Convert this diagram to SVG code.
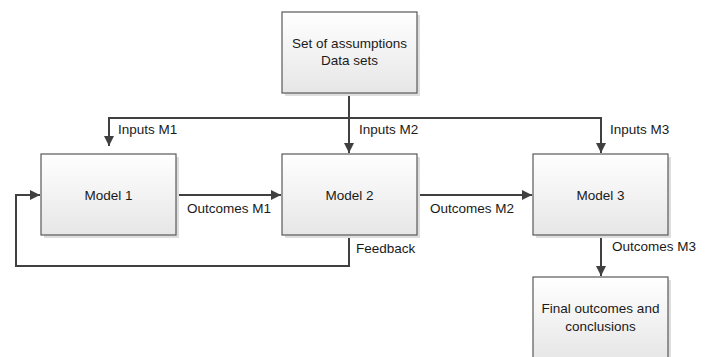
<svg xmlns="http://www.w3.org/2000/svg" width="706" height="357" viewBox="0 0 706 357">
<style>
.box{fill:url(#g);stroke:#595959;stroke-width:1.2}
.sh{fill:#dedede}
.t{font-family:"Liberation Sans",Arial,sans-serif;font-size:13.5px;fill:#1a1a1a}
.c{text-anchor:middle}
.ln{fill:none;stroke:#404040;stroke-width:2}
</style>
<defs>
<linearGradient id="g" x1="0" y1="0" x2="0" y2="1">
<stop offset="0" stop-color="#ffffff"/>
<stop offset="1" stop-color="#e6e6e6"/>
</linearGradient>
<marker id="a" markerWidth="12" markerHeight="12" refX="10" refY="5" orient="auto" markerUnits="userSpaceOnUse">
<path d="M0,0 L10,5 L0,10 Z" fill="#404040"/>
</marker>
</defs>
<g id="connectors">
<path class="ln" d="M349,93 V146"/>
<path class="ln" d="M109,146 V118 H601 V146"/>
<path class="ln" d="M109,118 V146" marker-end="url(#a)"/>
<path class="ln" d="M349,118 V153" marker-end="url(#a)"/>
<path class="ln" d="M601,118 V153" marker-end="url(#a)"/>
<path class="ln" d="M176,195 H281" marker-end="url(#a)"/>
<path class="ln" d="M417,195 H532" marker-end="url(#a)"/>
<path class="ln" d="M349,235 V266 H16 V195 H40" marker-end="url(#a)"/>
<path class="ln" d="M601,235 V276" marker-end="url(#a)"/>
<text class="t" x="118" y="134">Inputs M1</text>
<text class="t" x="359" y="134">Inputs M2</text>
<text class="t" x="610" y="134">Inputs M3</text>
<text class="t" x="187" y="213">Outcomes M1</text>
<text class="t" x="430" y="213">Outcomes M2</text>
<text class="t" x="356" y="253">Feedback</text>
<text class="t" x="612" y="251">Outcomes M3</text>
</g>
<g id="top">
<rect class="sh" x="285" y="15" width="135" height="81"/>
<rect class="box" x="282" y="12" width="135" height="81"/>
<text class="t c" x="349.5" y="48">Set of assumptions</text>
<text class="t c" x="349.5" y="65">Data sets</text>
</g>
<g id="m1">
<rect class="sh" x="44" y="157" width="135" height="81"/>
<rect class="box" x="41" y="154" width="135" height="81"/>
<text class="t c" x="108.5" y="200">Model 1</text>
</g>
<g id="m2">
<rect class="sh" x="285" y="157" width="135" height="81"/>
<rect class="box" x="282" y="154" width="135" height="81"/>
<text class="t c" x="349.5" y="200">Model 2</text>
</g>
<g id="m3">
<rect class="sh" x="536" y="157" width="135" height="81"/>
<rect class="box" x="533" y="154" width="135" height="81"/>
<text class="t c" x="600.5" y="200">Model 3</text>
</g>
<g id="final">
<rect class="sh" x="536" y="280" width="135" height="81"/>
<rect class="box" x="533" y="277" width="135" height="84"/>
<text class="t c" x="600.5" y="313">Final outcomes and</text>
<text class="t c" x="600.5" y="331">conclusions</text>
</g>
</svg>
